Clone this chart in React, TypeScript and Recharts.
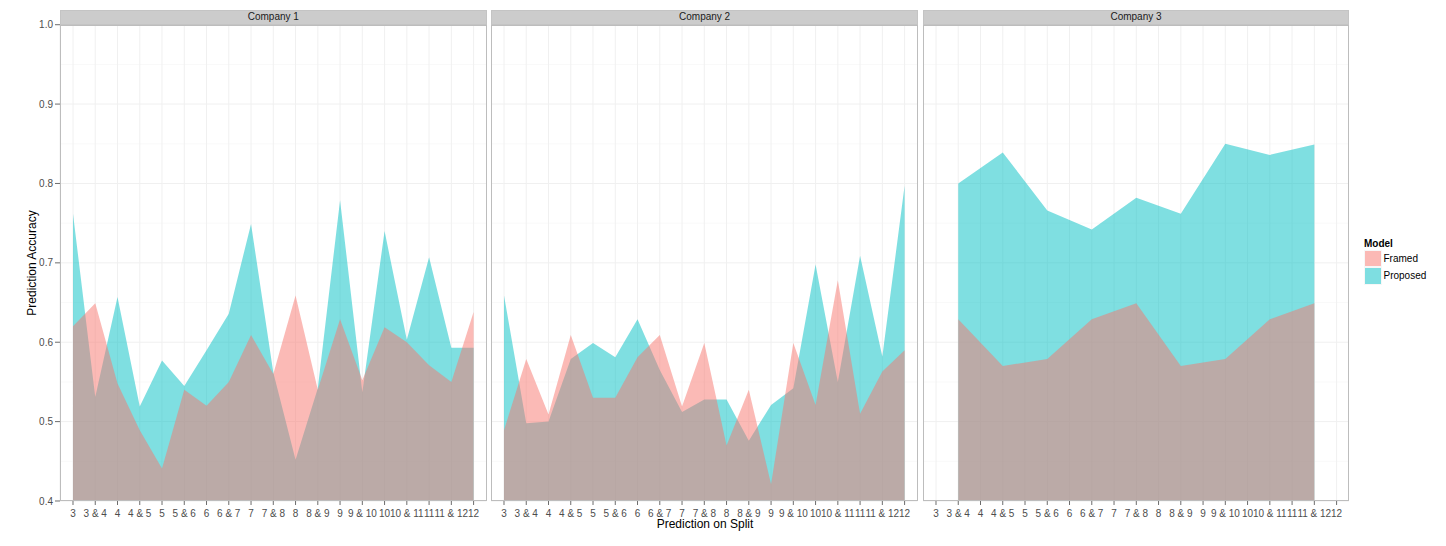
import React from "react";
import { AreaChart, Area, XAxis, YAxis, CartesianGrid } from "recharts";

// split labels along the x axis
const splits = [
  "3", "3 & 4", "4", "4 & 5", "5", "5 & 6", "6", "6 & 7", "7", "7 & 8",
  "8", "8 & 9", "9", "9 & 10", "10", "10 & 11", "11", "11 & 12", "12",
];

const companies = ["Company 1", "Company 2", "Company 3"];
const models = ["Framed", "Proposed"];

const company1Framed = [
  0.62, 0.649, 0.548, 0.489, 0.441, 0.54, 0.52, 0.55, 0.609, 0.56,
  0.659, 0.54, 0.629, 0.552, 0.619, 0.6, 0.571, 0.55, 0.638,
];
const company1Proposed = [
  0.762, 0.531, 0.657, 0.519, 0.577, 0.545, 0.59, 0.636, 0.749, 0.562,
  0.452, 0.542, 0.779, 0.537, 0.74, 0.603, 0.707, 0.593, 0.593,
];

const company2Framed = [
  0.489, 0.579, 0.509, 0.609, 0.53, 0.53, 0.581, 0.609, 0.519, 0.599,
  0.47, 0.54, 0.421, 0.599, 0.521, 0.678, 0.51, 0.563, 0.59,
];
const company2Proposed = [
  0.659, 0.498, 0.5, 0.579, 0.599, 0.581, 0.629, 0.565, 0.512, 0.528,
  0.528, 0.476, 0.521, 0.542, 0.698, 0.55, 0.709, 0.582, 0.797,
];

// company 3 only has the combined splits
const company3Framed = [
  null, 0.629, null, 0.57, null, 0.579, null, 0.629, null, 0.649,
  null, 0.57, null, 0.579, null, 0.629, null, 0.649, null,
];
const company3Proposed = [
  null, 0.8, null, 0.839, null, 0.766, null, 0.742, null, 0.782,
  null, 0.762, null, 0.85, null, 0.836, null, 0.849, null,
];

const yTicks = [0.4, 0.5, 0.6, 0.7, 0.8, 0.9, 1.0];
const yMinor = [0.45, 0.55, 0.65, 0.75, 0.85, 0.95];

const framedByCompany = [company1Framed, company2Framed, company3Framed];
const proposedByCompany = [company1Proposed, company2Proposed, company3Proposed];

const COLOURS: Record<string, string> = { Framed: "#F8766D", Proposed: "#00BFC4" };
const FONT = "'Liberation Sans', Arial, Helvetica, sans-serif";

const PANEL_LEFT = [60, 491.3, 922.7];
const PANEL_W = 426.6;
const PLOT_TOP = 24.7;
const PLOT_BOTTOM = 501;
const STRIP_TOP = 10;
const AXIS_W = 60;

const tickStyle = { fontSize: 10, fill: "#4D4D4D", fontFamily: FONT };

function Panel({ index }: { index: number }) {
  const withAxis = index === 0;
  const data = splits.map((split, i) => ({
    split,
    Framed: framedByCompany[index][i],
    Proposed: proposedByCompany[index][i],
  }));

  return (
    <div
      style={{
        position: "absolute",
        left: withAxis ? 0 : PANEL_LEFT[index],
        top: 0,
      }}
    >
      <AreaChart
        width={withAxis ? AXIS_W + PANEL_W : PANEL_W}
        height={546}
        data={data}
        margin={{ top: PLOT_TOP, right: 0, bottom: 0, left: 0 }}
      >
        <CartesianGrid
          stroke="#F9F9F9"
          vertical={false}
          horizontalValues={yMinor}
        />
        <CartesianGrid stroke="#F0F0F0" />
        <XAxis
          dataKey="split"
          interval={0}
          padding={{ left: 13, right: 13 }}
          height={546 - PLOT_BOTTOM}
          axisLine={false}
          tickLine={{ stroke: "#6B6B6B" }}
          tickSize={4}
          tickMargin={5}
          tick={tickStyle}
        />
        <YAxis
          type="number"
          domain={[0.4, 1]}
          ticks={yTicks}
          allowDataOverflow
          hide={!withAxis}
          width={AXIS_W}
          axisLine={false}
          tickLine={{ stroke: "#6B6B6B" }}
          tickSize={5}
          tickMargin={2}
          tick={tickStyle}
          tickFormatter={(v) => Number(v).toFixed(1)}
        />
        <Area
          type="linear"
          dataKey="Proposed"
          fill={COLOURS.Proposed}
          fillOpacity={0.5}
          stroke="none"
          connectNulls
          isAnimationActive={false}
        />
        <Area
          type="linear"
          dataKey="Framed"
          fill={COLOURS.Framed}
          fillOpacity={0.5}
          stroke="none"
          connectNulls
          isAnimationActive={false}
        />
      </AreaChart>
    </div>
  );
}

export default function App() {
  return (
    <div
      style={{
        position: "absolute",
        left: 0,
        top: 0,
        width: 1446,
        height: 546,
        background: "#FFFFFF",
        fontFamily: FONT,
        overflow: "hidden",
      }}
    >
      {companies.map((name, i) => (
        <Panel key={name} index={i} />
      ))}

      {companies.map((name, i) => (
        <React.Fragment key={name + "-frame"}>
          <div
            style={{
              position: "absolute",
              left: PANEL_LEFT[i],
              top: STRIP_TOP,
              width: PANEL_W,
              height: PLOT_TOP - STRIP_TOP,
              boxSizing: "border-box",
              background: "#CCCCCC",
              border: "1px solid #C4C4C4",
              fontSize: 10,
              lineHeight: `${PLOT_TOP - STRIP_TOP - 2}px`,
              textAlign: "center",
              color: "#1A1A1A",
            }}
          >
            {name}
          </div>
          <div
            style={{
              position: "absolute",
              left: PANEL_LEFT[i],
              top: PLOT_TOP,
              width: PANEL_W,
              height: PLOT_BOTTOM - PLOT_TOP,
              boxSizing: "border-box",
              border: "1px solid #BDBDBD",
              pointerEvents: "none",
            }}
          />
        </React.Fragment>
      ))}

      <div
        style={{
          position: "absolute",
          left: 0,
          top: 516,
          width: 1410,
          textAlign: "center",
          fontSize: 12,
          lineHeight: "16px",
          color: "#000000",
        }}
      >
        Prediction on Split
      </div>

      <div
        style={{
          position: "absolute",
          left: 32 - 100,
          top: 263 - 8,
          width: 200,
          height: 16,
          textAlign: "center",
          fontSize: 12,
          lineHeight: "16px",
          color: "#000000",
          transform: "rotate(-90deg)",
        }}
      >
        Prediction Accuracy
      </div>

      <div style={{ position: "absolute", left: 1364, top: 237 }}>
        <div style={{ fontSize: 10, fontWeight: "bold", lineHeight: "13px", color: "#000" }}>
          Model
        </div>
        {models.map((m) => (
          <div key={m} style={{ display: "flex", alignItems: "center", height: 17.3 }}>
            <div
              style={{
                width: 17.5,
                height: 17.3,
                boxSizing: "border-box",
                background: COLOURS[m],
                opacity: 0.5,
                border: "1px solid #F0F0F0",
              }}
            />
            <span style={{ fontSize: 10, marginLeft: 2, color: "#000" }}>{m}</span>
          </div>
        ))}
      </div>
    </div>
  );
}
